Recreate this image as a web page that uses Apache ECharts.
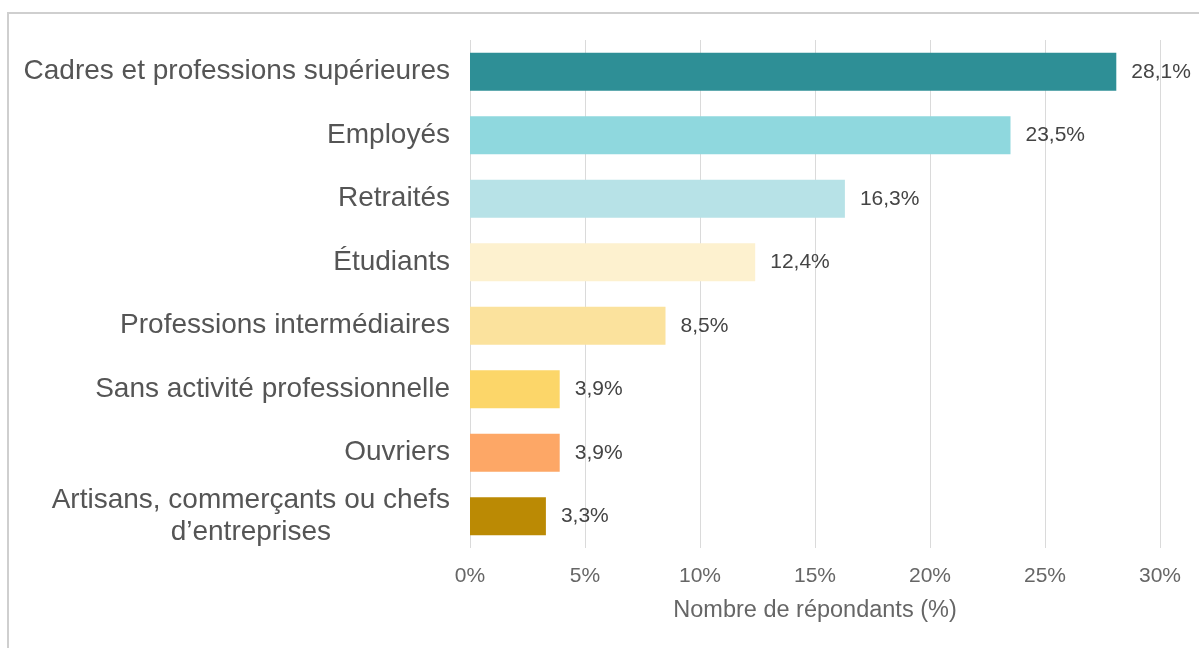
<!DOCTYPE html>
<html>
<head>
<meta charset="utf-8">
<script src="https://cdn.jsdelivr.net/npm/echarts@6/dist/echarts.min.js"></script>
<style>
    html, body { margin: 0; padding: 0; background: #fff; }
    /* cadre gris, coupé à droite et en bas comme sur la capture */
    .frame {
        position: absolute;
        left: 7px;
        top: 12px;
        width: 1300px;
        height: 800px;
        border: 2px solid #cfcfcf;
        box-sizing: border-box;
    }
    #chart {
        position: absolute;
        left: 0;
        top: 0;
        width: 1199px;
        height: 648px;
    }
</style>
</head>
<body>
<div class="frame"></div>
<div id="chart"></div>
<script>
const categories = [
    'Cadres et professions supérieures',
    'Employés',
    'Retraités',
    'Étudiants',
    'Professions intermédiaires',
    'Sans activité professionnelle',
    'Ouvriers',
    'Artisans, commerçants ou chefs\nd’entreprises',
]
const values = [28.1, 23.5, 16.3, 12.4, 8.5, 3.9, 3.9, 3.3]
const barColors = ['#2e8f96', '#8fd8de', '#b7e2e7', '#fdf1cf', '#fbe29d', '#fcd669', '#fda766', '#bb8a04']
const xTicks = [0, 5, 10, 15, 20, 25, 30]

const FONT = '"Liberation Sans", Arial, sans-serif'

const chart = echarts.init(document.getElementById('chart'))

chart.setOption({
    animation: false,
    grid: { left: 470, right: 39, top: 40, bottom: 100 },
    xAxis: {
        type: 'value',
        min: xTicks[0],
        max: xTicks[xTicks.length - 1],
        interval: 5,
        name: 'Nombre de répondants (%)',
        nameLocation: 'middle',
        nameGap: 51,
        nameTextStyle: { color: '#666', fontSize: 23.5, fontFamily: FONT },
        axisLine: { show: false },
        axisTick: { show: false },
        axisLabel: {
            color: '#666', fontSize: 21, fontFamily: FONT, margin: 18,
            formatter: v => v + '%',
        },
        splitLine: { lineStyle: { color: '#dadada', width: 1 } },
    },
    yAxis: {
        type: 'category',
        data: categories,
        inverse: true,
        axisLine: { show: false },
        axisTick: { show: false },
        axisLabel: {
            color: '#555',
            fontSize: 28,
            fontFamily: FONT,
            margin: 20,
            formatter: v => v.split('\n').map(s => '{c|' + s + '}').join('\n'),
            rich: {
                c: { align: 'center', fontSize: 28, fontFamily: FONT, color: '#555', lineHeight: 32 },
            },
        },
    },
    series: [{
        type: 'bar',
        data: values.map((v, i) => ({ value: v, itemStyle: { color: barColors[i] } })),
        barWidth: 38,
        label: {
            show: true,
            position: 'right',
            distance: 15,
            color: '#444',
            fontSize: 21,
            fontFamily: FONT,
            formatter: p => p.value.toFixed(1).replace('.', ',') + '%',
        },
    }],
})
</script>
</body>
</html>
